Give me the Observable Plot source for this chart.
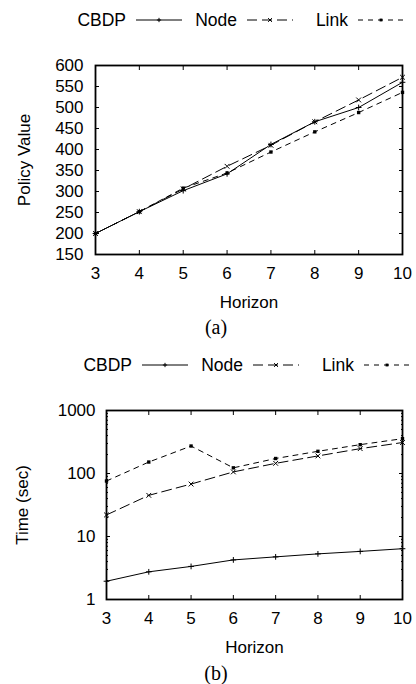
<!DOCTYPE html>
<html><head><meta charset="utf-8">
<script src="https://cdn.jsdelivr.net/npm/d3@7"></script>
<script src="https://cdn.jsdelivr.net/npm/@observablehq/plot@0.6"></script>
<style>
body{margin:0;background:#fff;font-family:"Liberation Sans",Arial,sans-serif;color:#000}
#page{position:relative;width:416px;height:684px;overflow:hidden}
.legend{position:absolute;display:flex;align-items:center;height:24px;font-size:17.5px}
.item{display:flex;align-items:center;width:111px}
.item .lab{width:55px;text-align:right;margin-right:10px}
.item svg{display:block}
.chart{position:absolute;left:0}
.cap{position:absolute;left:0;width:432px;text-align:center;font-family:"Liberation Serif",serif;font-size:20px;line-height:22px}
</style></head><body><div id="page">
<div class="legend" id="legA" style="left:71px;top:8px"></div>
<div class="chart" id="chartA" style="top:40px"></div>
<div class="cap" style="top:316px">(a)</div>
<div class="legend" id="legB" style="left:77px;top:353px"></div>
<div class="chart" id="chartB" style="top:385px"></div>
<div class="cap" style="top:662px">(b)</div>
</div>
<script>
// ---- data ----
const horizon = [3, 4, 5, 6, 7, 8, 9, 10];
const seriesNames = ["CBDP", "Node", "Link"];
const policyCBDP = [200, 252, 302, 342, 412, 466, 500, 560];
const policyNode = [200, 252, 306, 360, 410, 466, 518, 572];
const policyLink = [200, 252, 308, 344, 394, 442, 488, 536];
const timeCBDP = [1.95, 2.75, 3.35, 4.25, 4.75, 5.3, 5.8, 6.4];
const timeNode = [22, 45, 68, 106, 145, 190, 248, 310];
const timeLink = [76, 152, 273, 123, 173, 225, 287, 357];
const xTicks = [3, 4, 5, 6, 7, 8, 9, 10];
const policyTicks = [150, 200, 250, 300, 350, 400, 450, 500, 550, 600];
const timeMajorTicks = [1, 10, 100, 1000];
const timeMinorTicks = [2, 3, 4, 5, 6, 7, 8, 9, 20, 30, 40, 50, 60, 70, 80, 90, 200, 300, 400, 500, 600, 700, 800, 900];

// ---- styles ----
const styles = {
  CBDP: {dash: null, symbol: "plus", r: 2.0, filled: false, d3sym: d3.symbolPlus, size: 7},
  Node: {dash: "10,5", symbol: "times", r: 2.3, filled: false, d3sym: d3.symbolTimes, size: 11},
  Link: {dash: "5,5", symbol: "square", r: 1.9, filled: true, d3sym: d3.symbolSquare, size: 8}
};

function rows(name, values) {
  return horizon.map((h, i) => ({series: name, horizon: h, value: values[i]}));
}

function seriesMarks(name, values) {
  const s = styles[name];
  const data = rows(name, values);
  return [
    Plot.line(data, {x: "horizon", y: "value", stroke: "#000", strokeWidth: 1, strokeDasharray: s.dash}),
    s.filled
      ? Plot.dot(data, {x: "horizon", y: "value", symbol: s.symbol, r: s.r, fill: "#000", stroke: "none"})
      : Plot.dot(data, {x: "horizon", y: "value", symbol: s.symbol, r: s.r, stroke: "#000", strokeWidth: 1})
  ];
}

function legend(id) {
  const el = document.getElementById(id);
  for (const name of seriesNames) {
    const s = styles[name];
    const item = document.createElement("div");
    item.className = "item";
    const lab = document.createElement("span");
    lab.className = "lab";
    lab.textContent = name;
    item.appendChild(lab);
    const svg = d3.create("svg").attr("width", 46).attr("height", 16);
    svg.append("line").attr("x1", 0).attr("x2", 46).attr("y1", 8).attr("y2", 8)
      .attr("stroke", "#000").attr("stroke-width", 1).attr("stroke-dasharray", s.dash);
    svg.append("path").attr("d", d3.symbol(s.d3sym, s.size)())
      .attr("transform", "translate(23,8)")
      .attr("fill", s.filled ? "#000" : "none").attr("stroke", s.filled ? "none" : "#000");
    item.appendChild(svg.node());
    el.appendChild(item);
  }
}

const common = {
  width: 416, height: 274, marginTop: 25, marginBottom: 60, marginRight: 14,
  style: {fontFamily: "Liberation Sans, Arial, sans-serif", fontSize: "17px", background: "white", color: "black"}
};

const chartA = Plot.plot({
  ...common,
  marginLeft: 95,
  x: {domain: [3, 10]},
  y: {domain: [150, 600]},
  marks: [
    Plot.axisX(xTicks, {anchor: "bottom", tickSize: 0, tickPadding: 12, fontSize: 17, tickFormat: d => String(d), label: "Horizon", labelAnchor: "center", labelArrow: "none", labelOffset: 53}),
    Plot.axisX(xTicks, {anchor: "bottom", tickSize: 4, insetBottom: 4, fill: null, label: null}),
    Plot.axisX(xTicks, {anchor: "top", tickSize: 4, insetTop: 4, fill: null, label: null}),
    Plot.axisY(policyTicks, {anchor: "left", tickSize: 0, tickPadding: 12, fontSize: 17, tickFormat: d => String(d), label: "Policy Value", labelAnchor: "center", labelArrow: "none", labelOffset: 78}),
    Plot.axisY(policyTicks, {anchor: "left", tickSize: 4, insetLeft: 4, fill: null, label: null}),
    Plot.axisY(policyTicks, {anchor: "right", tickSize: 4, insetRight: 4, fill: null, label: null}),
    ...seriesMarks("CBDP", policyCBDP),
    ...seriesMarks("Node", policyNode),
    ...seriesMarks("Link", policyLink),
    Plot.frame({stroke: "#000", strokeWidth: 1.8})
  ]
});

const chartB = Plot.plot({
  ...common,
  marginLeft: 106,
  x: {domain: [3, 10]},
  y: {type: "log", domain: [1, 1000]},
  marks: [
    Plot.axisX(xTicks, {anchor: "bottom", tickSize: 0, tickPadding: 12, fontSize: 17, tickFormat: d => String(d), label: "Horizon", labelAnchor: "center", labelArrow: "none", labelOffset: 53}),
    Plot.axisX(xTicks, {anchor: "bottom", tickSize: 4, insetBottom: 4, fill: null, label: null}),
    Plot.axisX(xTicks, {anchor: "top", tickSize: 4, insetTop: 4, fill: null, label: null}),
    Plot.axisY(timeMajorTicks, {anchor: "left", tickSize: 0, tickPadding: 11, fontSize: 17, tickFormat: d => String(d), label: "Time (sec)", labelAnchor: "center", labelArrow: "none", labelOffset: 91}),
    Plot.axisY(timeMajorTicks, {anchor: "left", tickSize: 4, insetLeft: 4, fill: null, label: null}),
    Plot.axisY(timeMajorTicks, {anchor: "right", tickSize: 4, insetRight: 4, fill: null, label: null}),
    Plot.axisY(timeMinorTicks, {anchor: "left", tickSize: 2, insetLeft: 2, fill: null, label: null}),
    Plot.axisY(timeMinorTicks, {anchor: "right", tickSize: 2, insetRight: 2, fill: null, label: null}),
    ...seriesMarks("CBDP", timeCBDP),
    ...seriesMarks("Node", timeNode),
    ...seriesMarks("Link", timeLink),
    Plot.frame({stroke: "#000", strokeWidth: 1.8})
  ]
});

document.getElementById("chartA").appendChild(chartA);
document.getElementById("chartB").appendChild(chartB);
legend("legA");
legend("legB");
</script>
</body></html>
